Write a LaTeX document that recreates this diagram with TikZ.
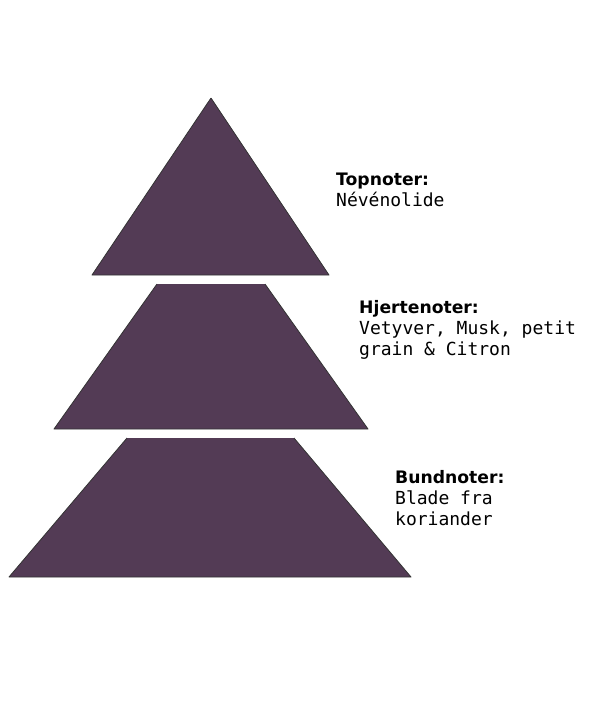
\documentclass[tikz,border=0pt]{standalone}
\usepackage{fontspec}
\setmainfont{DejaVu Sans}
\setmonofont{DejaVu Sans Mono}
\usetikzlibrary{positioning}
\definecolor{plum}{RGB}{83,59,85}

\tikzset{
  notehead/.style={anchor=base west, inner sep=0pt,
    font=\fontsize{17.2}{21}\selectfont\bfseries},
  notebody/.style={anchor=base west, inner sep=0pt, align=left,
    font=\fontsize{18}{21}\selectfont\ttfamily}
}

\begin{document}
\begin{tikzpicture}[x=1pt, y=-1pt]
      \useasboundingbox (0,0) rectangle (600,720);

      % the three layers: top left, top right, top y, bottom left, bottom right, bottom y
      \foreach \tl/\tr/\ty/\bl/\br/\by in {211/211/98/92/329/275,
                                          157/265/284/54/368/429,
                                          127/294/438/9/411/577}
      {
        \fill [plum] (\tl,\ty) -- (\bl,\by) -- (\br,\by) -- (\tr,\ty) -- cycle;
        \draw [black!80, line width=0.8pt, line join=round]
          (\tl,\ty) -- (\bl,\by) -- (\br,\by) -- (\tr,\ty);
      }

      % labels (a multi-line node sits on its last baseline)
      \node [notehead] (top) at (336,185) {Topnoter:};
      \node [notebody] (topbody) at ([yshift=-21pt]top.base west) {Névénolide};

      \node [notehead] (heart) at (359,313) {Hjertenoter:};
      \node [notebody] (heartbody) at ([yshift=-42pt]heart.base west)
        {Vetyver, Musk, petit\\grain \& Citron};

      \node [notehead] (base) at (395,483) {Bundnoter:};
      \node [notebody] (basebody) at ([yshift=-42pt]base.base west)
        {Blade fra\\koriander};
    \end{tikzpicture}
\end{document}
